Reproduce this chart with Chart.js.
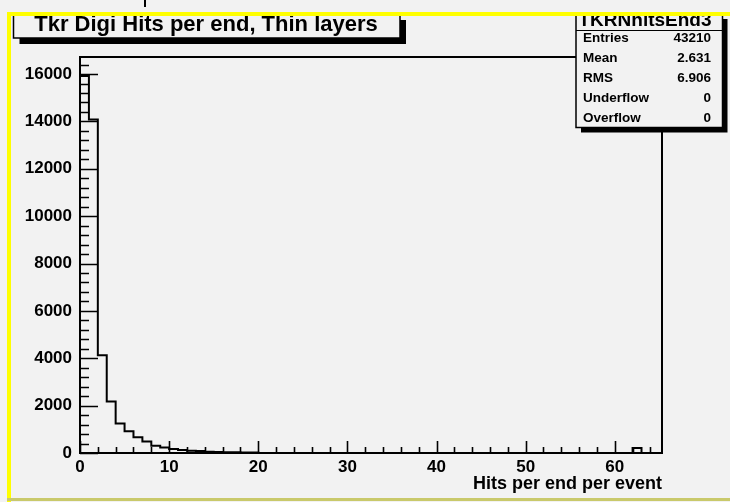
<!DOCTYPE html>
<html>
<head>
<meta charset="utf-8">
<script src="https://cdn.jsdelivr.net/npm/chart.js@4/dist/chart.umd.min.js"></script>
<style>
  html, body { margin: 0; padding: 0; background: #f2f2f2; }
  canvas { display: block; }
</style>
</head>
<body>
<canvas id="hist" width="730" height="502"></canvas>
<script>
// Histogram contents: one count per 1-hit bin, starting at 0 hits
const binCounts = [
  15920, 14080, 4130, 2170, 1250, 920, 670, 490, 310, 230,
  170, 130, 100, 80, 55, 45, 35, 30, 25, 20,
  0, 0, 0, 0, 0, 0, 0, 0, 0, 0,
  0, 0, 0, 0, 0, 0, 0, 0, 0, 0,
  0, 0, 0, 0, 0, 0, 0, 0, 0, 0,
  0, 0, 0, 0, 0, 0, 0, 0, 0, 0,
  0, 0, 210, 0, 0,
];
const binStart = 0;
const binWidth = 1;

const xRange = [0, 65.3];
const yRange = [0, 16720];
const xMajorStep = 10;
const xMinorStep = 2;
const yMajorStep = 2000;
const yMinorStep = 400;

const histTitle = 'Tkr Digi Hits per end, Thin layers';
const xTitle = 'Hits per end per event';
const statsName = 'TKRNhitsEnd3';
const statsLabels = ['Entries', 'Mean', 'RMS', 'Underflow', 'Overflow'];
const statsValues = ['43210', '2.631', '6.906', '0', '0'];

const FONT = "'Liberation Sans', Arial, sans-serif";

// step outline points: left edge of each bin, closed to zero at both ends
const outline = [{ x: binStart, y: 0 }];
binCounts.forEach((c, i) => outline.push({ x: binStart + i * binWidth, y: c }));
outline.push({ x: binStart + binCounts.length * binWidth, y: 0 });

const tickValues = (min, max, step) => {
  const out = [];
  for (let v = min; v <= max + 1e-9; v += step) out.push({ value: v });
  return out;
};

const background = {
  id: 'background',
  beforeDraw(chart) {
    const { ctx, width, height } = chart;
    ctx.save();
    ctx.fillStyle = '#f2f2f2';
    ctx.fillRect(0, 0, width, height);
    ctx.restore();
  },
};

// ROOT style frame with ticks pointing into the pad
const frameTicks = {
  id: 'frameTicks',
  afterDatasetsDraw(chart) {
    const { ctx, chartArea: { left, top, right, bottom }, scales: { x, y } } = chart;
    ctx.save();
    ctx.strokeStyle = '#000';
    ctx.lineWidth = 2;
    ctx.strokeRect(left, top, right - left, bottom - top);
    ctx.beginPath();
    x.ticks.forEach((t) => {
      const px = Math.round(x.getPixelForValue(t.value)) + 0.5;
      const len = t.value % xMajorStep === 0 ? 12 : 6;
      ctx.moveTo(px, bottom);
      ctx.lineTo(px, bottom - len);
    });
    y.ticks.forEach((t) => {
      const py = Math.round(y.getPixelForValue(t.value)) + 0.5;
      const len = t.value % yMajorStep === 0 ? 18 : 9;
      ctx.moveTo(left, py);
      ctx.lineTo(left + len, py);
    });
    ctx.lineWidth = 1.6;
    ctx.stroke();
    ctx.restore();
  },
};

const boxWithShadow = (ctx, x0, y0, x1, y1, shadow) => {
  ctx.fillStyle = '#000';
  ctx.fillRect(x0 + shadow, y0 + shadow, x1 - x0, y1 - y0);
  ctx.fillStyle = '#f2f2f2';
  ctx.fillRect(x0, y0, x1 - x0, y1 - y0);
  ctx.strokeStyle = '#000';
  ctx.lineWidth = 1.5;
  ctx.strokeRect(x0, y0, x1 - x0, y1 - y0);
  ctx.fillStyle = '#000';
};

const decorations = {
  id: 'decorations',
  afterDraw(chart) {
    const { ctx } = chart;
    ctx.save();

    // title pave
    boxWithShadow(ctx, 13.5, 14, 400, 38, 6);
    ctx.font = `bold 22px ${FONT}`;
    ctx.textAlign = 'center';
    ctx.textBaseline = 'alphabetic';
    ctx.fillText(histTitle, 206, 30.5);

    // stats pave
    boxWithShadow(ctx, 576, 14, 722.5, 127.5, 5);
    ctx.beginPath();
    ctx.moveTo(576, 30.5);
    ctx.lineTo(722.5, 30.5);
    ctx.lineWidth = 1.2;
    ctx.stroke();
    ctx.save();
    ctx.beginPath();
    ctx.rect(577, 13, 145, 17);
    ctx.clip();
    ctx.font = `bold 19px ${FONT}`;
    ctx.fillText(statsName, 645, 25.5);
    ctx.restore();
    ctx.font = `bold 13.5px ${FONT}`;
    ctx.textBaseline = 'middle';
    statsLabels.forEach((lab, i) => {
      const yy = 38 + i * 20;
      ctx.textAlign = 'left';
      ctx.fillText(lab, 583, yy);
      ctx.textAlign = 'right';
      ctx.fillText(statsValues[i], 711, yy);
    });

    // canvas border (yellow) and the stray mark above the title
    ctx.fillStyle = '#ffff00';
    ctx.fillRect(7, 12, 4, 490);
    ctx.fillRect(7, 12, 723, 4);
    ctx.fillStyle = '#c9c96b';
    ctx.fillRect(7, 498, 723, 3);
    ctx.fillStyle = '#000';
    ctx.fillRect(144, 0, 2, 7);
    ctx.restore();
  },
};

new Chart(document.getElementById('hist'), {
  type: 'line',
  plugins: [background, frameTicks, decorations],
  data: {
    datasets: [
      {
        data: outline,
        stepped: true,
        borderColor: '#000',
        borderWidth: 2,
        pointRadius: 0,
        fill: false,
        tension: 0,
      },
    ],
  },
  options: {
    responsive: false,
    animation: false,
    layout: { padding: { top: 57, right: 68, left: 0, bottom: 0 } },
    plugins: {
      legend: { display: false },
      tooltip: { enabled: false },
    },
    scales: {
      x: {
        type: 'linear',
        min: xRange[0],
        max: xRange[1],
        grid: { display: false, drawTicks: false },
        border: { display: false },
        afterBuildTicks(scale) {
          scale.ticks = tickValues(xRange[0], 64, xMinorStep);
        },
        afterFit(scale) {
          scale.height = 49;
        },
        ticks: {
          autoSkip: false,
          maxRotation: 0,
          padding: 4,
          color: '#000',
          font: { family: FONT, size: 17, weight: 'bold' },
          callback: (v) => (v % xMajorStep === 0 ? v : ''),
        },
        title: {
          display: true,
          text: xTitle,
          align: 'end',
          color: '#000',
          font: { family: FONT, size: 18, weight: 'bold' },
          padding: { top: 0, bottom: 7 },
        },
      },
      y: {
        min: yRange[0],
        max: yRange[1],
        grid: { display: false, drawTicks: false },
        border: { display: false },
        afterBuildTicks(scale) {
          scale.ticks = tickValues(yRange[0], 16400, yMinorStep);
        },
        afterFit(scale) {
          scale.width = 80;
        },
        ticks: {
          autoSkip: false,
          padding: 8,
          color: '#000',
          font: { family: FONT, size: 17, weight: 'bold' },
          callback: (v) => (v % yMajorStep === 0 ? v : ''),
        },
      },
    },
  },
});
</script>
</body>
</html>
